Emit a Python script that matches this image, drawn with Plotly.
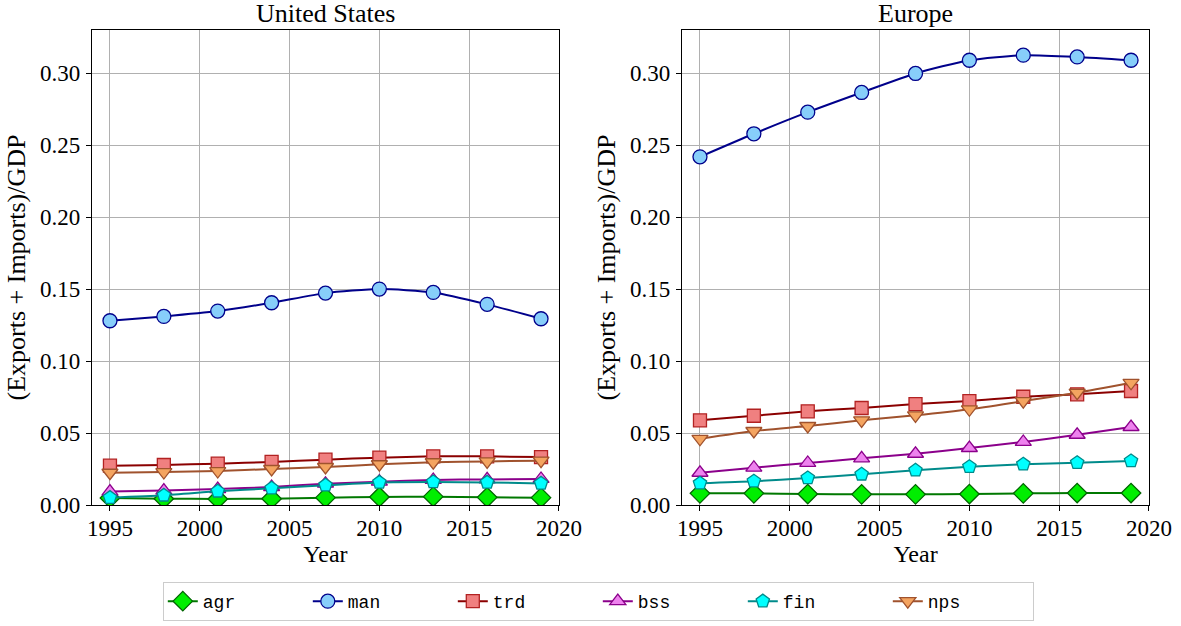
import plotly.graph_objects as go
from plotly.subplots import make_subplots

years = [1995, 1998, 2001, 2004, 2007, 2010, 2013, 2016, 2019]
sectors = ["agr", "man", "trd", "bss", "fin", "nps"]

us_agr = [0.0049, 0.0044, 0.0042, 0.0044, 0.0051, 0.0056, 0.0058, 0.0053, 0.0051]
us_man = [0.128, 0.131, 0.1347, 0.1405, 0.1472, 0.150, 0.1477, 0.1394, 0.1294]
us_trd = [0.0273, 0.0278, 0.0287, 0.0299, 0.0315, 0.0329, 0.0338, 0.0338, 0.0333]
us_bss = [0.0093, 0.0100, 0.0111, 0.0125, 0.0148, 0.0162, 0.0174, 0.0178, 0.0181]
us_fin = [0.0051, 0.0067, 0.0095, 0.0116, 0.0137, 0.0157, 0.0160, 0.0157, 0.0150]
us_nps = [0.0224, 0.0229, 0.0236, 0.0250, 0.0264, 0.0283, 0.0297, 0.0303, 0.0308]

eu_agr = [0.0081, 0.0081, 0.0076, 0.0074, 0.0074, 0.0076, 0.0081, 0.0083, 0.0083]
eu_man = [0.2419, 0.2579, 0.2729, 0.2866, 0.2998, 0.309, 0.3125, 0.3113, 0.309]
eu_trd = [0.0588, 0.0620, 0.0651, 0.0674, 0.0701, 0.0722, 0.0752, 0.0769, 0.0792]
eu_bss = [0.0224, 0.0259, 0.0292, 0.0324, 0.0356, 0.0396, 0.0438, 0.0488, 0.0542]
eu_fin = [0.0151, 0.0165, 0.0188, 0.0213, 0.0241, 0.0266, 0.0283, 0.0294, 0.0306]
eu_nps = [0.0460, 0.0514, 0.0549, 0.0588, 0.0623, 0.0665, 0.0722, 0.0780, 0.0849]

us_data = [us_agr, us_man, us_trd, us_bss, us_fin, us_nps]
eu_data = [eu_agr, eu_man, eu_trd, eu_bss, eu_fin, eu_nps]

styles = {
    "agr": dict(line="#007800", face="#00ee00", edge="#006400", symbol="diamond", size=15),
    "man": dict(line="#00008b", face="#87cefa", edge="#00008b", symbol="circle", size=14),
    "trd": dict(line="#8b0000", face="#f08080", edge="#b22222", symbol="square", size=13),
    "bss": dict(line="#8b008b", face="#ee82ee", edge="#8b008b", symbol="triangle-up", size=14),
    "fin": dict(line="#008b8b", face="#00ffff", edge="#008b8b", symbol="pentagon", size=14),
    "nps": dict(line="#a0522d", face="#f4a460", edge="#a0522d", symbol="triangle-down", size=14),
}

serif = "Liberation Serif, Times New Roman, serif"
mono = "Liberation Mono, DejaVu Sans Mono, monospace"

fig = make_subplots(rows=1, cols=2, subplot_titles=["United States", "Europe"],
                    horizontal_spacing=0.1164)

for col, data in [(1, us_data), (2, eu_data)]:
    for name, vals in zip(sectors, data):
        s = styles[name]
        fig.add_trace(go.Scatter(
            x=years, y=vals, name=name, mode="lines+markers",
            line=dict(color=s["line"], width=2, shape="spline", smoothing=0.6),
            marker=dict(symbol=s["symbol"], size=s["size"], color=s["face"],
                        line=dict(color=s["edge"], width=1.3)),
            showlegend=(col == 1), legendgroup=name,
        ), row=1, col=col)

axis_common = dict(showline=True, linecolor="black", linewidth=1.2, mirror=True,
                   ticks="outside", ticklen=5, tickcolor="black",
                   showgrid=True, gridcolor="#b0b0b0", gridwidth=1, zeroline=False,
                   tickfont=dict(family=serif, size=23, color="black"))

for col in (1, 2):
    fig.update_xaxes(range=[1994, 2020], tickvals=[1995, 2000, 2005, 2010, 2015, 2020],
                     ticklabelstandoff=-3,
                     title=dict(text="Year", font=dict(family=serif, size=24, color="black"),
                                standoff=0),
                     row=1, col=col, **axis_common)
    fig.update_yaxes(range=[0, 0.33], tickvals=[0, 0.05, 0.10, 0.15, 0.20, 0.25, 0.30],
                     tickformat=".2f", ticklabelstandoff=1,
                     title=dict(text="(Exports + Imports)/GDP",
                                font=dict(family=serif, size=26, color="black"), standoff=6),
                     row=1, col=col, **axis_common)

for ann in fig.layout.annotations:
    ann.font = dict(family=serif, size=26, color="black")
    ann.yshift = 0

fig.update_layout(
    width=1181, height=626,
    margin=dict(l=92, r=32, t=30, b=121, autoexpand=False),
    plot_bgcolor="white", paper_bgcolor="white",
    legend=dict(orientation="h", x=0.479, xanchor="center", y=-0.162, yanchor="top",
                font=dict(family=mono, size=18, color="black"),
                bordercolor="#cccccc", borderwidth=1,
                entrywidth=100, entrywidthmode="pixels"),
)

# remove the browser's default 8px body margin so the figure starts at the page corner
fig.write_html("out.html", config={"displayModeBar": False},
               post_script="document.body.style.margin='0';")
